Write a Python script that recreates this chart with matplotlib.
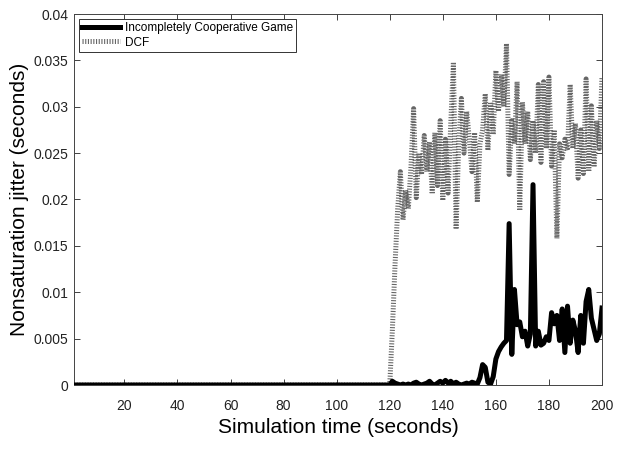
import matplotlib
matplotlib.use("Agg")
import matplotlib.pyplot as plt
from matplotlib.ticker import FormatStrFormatter, MultipleLocator
import numpy as np

plt.rcParams["font.family"] = ["Liberation Sans", "DejaVu Sans"]

# ── data (time in seconds, jitter in seconds) ─────────────────
T_START = 120                       # both curves are 0 before this
T_END = 200

# DCF, t = 120 .. 200
dcf_tail = [
    0.0, 0.006, 0.013, 0.019, 0.023, 0.0178, 0.021, 0.019, 0.0235, 0.0298,
    0.0202, 0.025, 0.0227, 0.0269, 0.023, 0.0262, 0.0206, 0.0272, 0.0215, 0.0285,
    0.0199, 0.0265, 0.0207, 0.0282, 0.0348, 0.0168, 0.026, 0.0309, 0.025, 0.0295,
    0.0265, 0.023, 0.0272, 0.0197, 0.026, 0.0275, 0.0314, 0.0253, 0.0305, 0.027,
    0.0339, 0.0295, 0.0335, 0.030, 0.0368, 0.0227, 0.0285, 0.026, 0.0327, 0.0188,
    0.0305, 0.026, 0.0295, 0.0243, 0.0285, 0.025, 0.0324, 0.024, 0.0327, 0.0255,
    0.0332, 0.0236, 0.0275, 0.0158, 0.026, 0.0245, 0.0265, 0.0253, 0.0324, 0.0255,
    0.0282, 0.0223, 0.0275, 0.0228, 0.033, 0.023, 0.0301, 0.0235, 0.0285, 0.0255,
    0.0332,
]

# Incompletely Cooperative Game, t = 120 .. 200
icg_tail = [
    0.0, 0.0004, 0.0002, 0.0001, 0.0, 0.0001, 0.0, 0.0001, 0.0, 0.0002,
    0.0003, 0.0001, 0.0, 0.0001, 0.0002, 0.0004, 0.0001, 0.0, 0.0002, 0.0004,
    0.0002, 0.0005, 0.0002, 0.0004, 0.0001, 0.0003, 0.0001, 0.0, 0.0001, 0.0002,
    0.0001, 0.0003, 0.0002, 0.0001, 0.0008, 0.0022, 0.0019, 0.0003, 0.0001, 0.0009,
    0.0028, 0.0036, 0.0041, 0.0045, 0.0048, 0.0174, 0.0033, 0.0103, 0.0065, 0.0068,
    0.0052, 0.0058, 0.0042, 0.0055, 0.0216, 0.0042, 0.0058, 0.0043, 0.0045, 0.0052,
    0.0048, 0.0078, 0.0066, 0.0075, 0.0048, 0.0082, 0.0035, 0.0085, 0.0045, 0.0070,
    0.0058, 0.0035, 0.0075, 0.0045, 0.0090, 0.0103, 0.0072, 0.0060, 0.0048, 0.0055,
    0.0083,
]

time = np.arange(1, T_END + 1)
lead = np.zeros(T_START - 1)
dcf = np.concatenate([lead, dcf_tail])
icg = np.concatenate([lead, icg_tail])

# ── plot ──────────────────────────────────────────────────────
fig = plt.figure(figsize=(6.17, 4.65), dpi=100)
ax = fig.add_axes([74 / 617, 1 - 385 / 465, 528 / 617, 371 / 465])

ax.plot(time, icg, color="black", linewidth=3.6,
        label="Incompletely Cooperative Game", zorder=3)
ax.plot(time, dcf, color="#666666", linewidth=3.6,
        linestyle=(0, (0.22, 0.32)), label="DCF", zorder=2)

ax.set_xlim(1, 200)
ax.set_ylim(0, 0.04)
ax.xaxis.set_major_locator(MultipleLocator(20))
ax.yaxis.set_major_locator(MultipleLocator(0.005))
ax.yaxis.set_major_formatter(FormatStrFormatter("%g"))

ax.tick_params(direction="in", top=True, right=True, length=4,
               width=0.6, labelsize=10, colors="#222222")
ax.tick_params(axis="x", pad=10)
ax.tick_params(axis="y", pad=4)
for s in ax.spines.values():
    s.set_linewidth(0.7)
    s.set_color("#444444")

ax.set_xlabel("Simulation time (seconds)", fontsize=15, labelpad=4)
ax.set_ylabel("Nonsaturation jitter (seconds)", fontsize=15, labelpad=3)

leg = ax.legend(loc="upper left", fontsize=8.5, fancybox=False,
                edgecolor="#333333", framealpha=1, handlelength=3.2,
                borderpad=0.3, labelspacing=0.2, handletextpad=0.4,
                borderaxespad=0.4)
leg.get_frame().set_linewidth(0.7)

fig.savefig("out.png", dpi=100)
